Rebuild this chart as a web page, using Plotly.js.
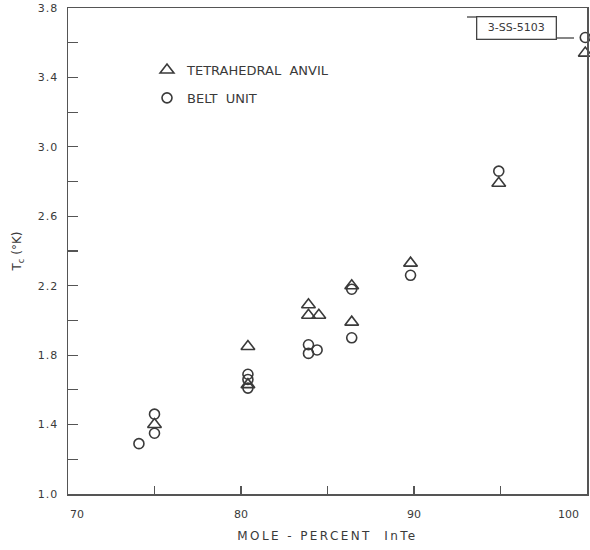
<!DOCTYPE html>
<html>
<head>
<meta charset="utf-8">
<script src="https://cdn.plot.ly/plotly-3.0.1.min.js"></script>
<style>
html,body{margin:0;padding:0;background:#fff;}
#chart .xtitle{letter-spacing:2.4px;}
#chart .ytick text{letter-spacing:1px;}
</style>
</head>
<body>
<div id="chart" style="width:590px;height:550px;"></div>
<script>
// Tetrahedral anvil data (mole-percent InTe, Tc in K)
const tetraX = [75.0, 80.4, 80.4, 83.9, 83.9, 84.5, 86.4, 86.4, 89.8, 94.9, 99.9];
const tetraY = [1.40, 1.85, 1.63, 2.09, 2.03, 2.03, 2.20, 1.99, 2.33, 2.79, 3.54];
// Belt unit data
const beltX = [74.1, 75.0, 75.0, 80.4, 80.4, 80.4, 83.9, 83.9, 84.4, 86.4, 86.4, 89.8, 94.9, 99.9];
const beltY = [1.29, 1.46, 1.35, 1.69, 1.66, 1.61, 1.86, 1.81, 1.83, 2.18, 1.90, 2.26, 2.86, 3.63];
const seriesNames = ["TETRAHEDRAL  ANVIL", "BELT  UNIT"];
const xTickVals = [70, 80, 90, 100];
const xTickText = ["70", "80", "90", "100"];
const yTickVals = [1.0, 1.4, 1.8, 2.2, 2.6, 3.0, 3.4, 3.8];
const yTickText = ["1.0", "1.4", "1.8", "2.2", "2.6", "3.0", "3.4", "3.8"];
const figLabel = "3-SS-5103";

const ink = "#3a3a3a";
const fontFam = "DejaVu Sans, Liberation Sans, sans-serif";

const traces = [
  {x: tetraX, y: tetraY, name: seriesNames[0], type: "scatter", mode: "markers",
   legendgroup: "a", cliponaxis: false,
   marker: {symbol: "triangle-up-open", size: 12, color: ink, line: {width: 1.6, color: ink}}},
  {x: beltX, y: beltY, name: seriesNames[1], type: "scatter", mode: "markers",
   legendgroup: "b", cliponaxis: false,
   marker: {symbol: "circle-open", size: 10, color: ink, line: {width: 1.6, color: ink}}}
];

const xAnn = xTickVals.map((v, i) => ({
  x: v, y: 0, xref: "x", yref: "paper", yanchor: "top", yshift: -12,
  xshift: i === xTickVals.length - 1 ? -6 : 0,
  xanchor: i === 0 ? "left" : (i === xTickVals.length - 1 ? "right" : "center"),
  text: xTickText[i], showarrow: false, font: {family: fontFam, size: 11, color: ink}
}));

function px2x(px) { return (px - 68) / 519; }
function py2y(py) { return (494 - py) / 486; }

const layout = {
  width: 590, height: 550,
  margin: {l: 68, r: 3, t: 8, b: 56},
  paper_bgcolor: "#fff", plot_bgcolor: "#fff",
  font: {family: fontFam, color: ink, size: 11},
  showlegend: true,
  legend: {x: px2x(147), y: py2y(55), xanchor: "left", yanchor: "top",
           traceorder: "grouped", tracegroupgap: 8,
           font: {family: fontFam, size: 13, color: ink}, bgcolor: "rgba(0,0,0,0)"},
  xaxis: {range: [70, 100], showgrid: false, zeroline: false,
          showline: true, linecolor: "#555", linewidth: 1.5, mirror: true,
          ticks: "inside", ticklen: 8, tickcolor: "#555", tickwidth: 1.2,
          tickvals: [70, 75, 80, 85, 90, 95, 100], showticklabels: false,
          title: {text: "MOLE - PERCENT  InTe", font: {family: fontFam, size: 12, color: ink}, standoff: 37}},
  yaxis: {range: [1.0, 3.8], showgrid: false, zeroline: false,
          showline: true, linecolor: "#555", linewidth: 1.5, mirror: true,
          ticks: "inside", ticklen: 10, tickcolor: "#555", tickwidth: 1.2,
          tickvals: yTickVals, ticktext: yTickText, ticklabelstandoff: 6,
          minor: {dtick: 0.2, tick0: 1.0, ticks: "inside", ticklen: 10, tickcolor: "#555", tickwidth: 1.2, showgrid: false},
          tickfont: {family: fontFam, size: 11, color: ink},
          title: {text: "T<sub>c</sub> (°K)", font: {family: fontFam, size: 12, color: ink}, standoff: 16}},
  annotations: xAnn.concat([
    {x: px2x(516), y: py2y(28), xref: "paper", yref: "paper", xanchor: "center", yanchor: "middle",
     text: figLabel, showarrow: false,
     font: {family: fontFam, size: 11, color: ink}, bordercolor: "#444", borderwidth: 1.3,
     borderpad: 4, bgcolor: "#fff", width: 70}
  ]),
  shapes: [
    {type: "line", xref: "paper", yref: "paper", x0: px2x(467), x1: px2x(478), y0: py2y(17), y1: py2y(17),
     line: {color: "#444", width: 1.3}},
    {type: "line", xref: "paper", yref: "paper", x0: px2x(555), x1: px2x(574), y0: py2y(38), y1: py2y(38),
     line: {color: "#444", width: 1.3}}
  ]
};

Plotly.newPlot("chart", traces, layout, {displayModeBar: false, staticPlot: true});
</script>
</body>
</html>
